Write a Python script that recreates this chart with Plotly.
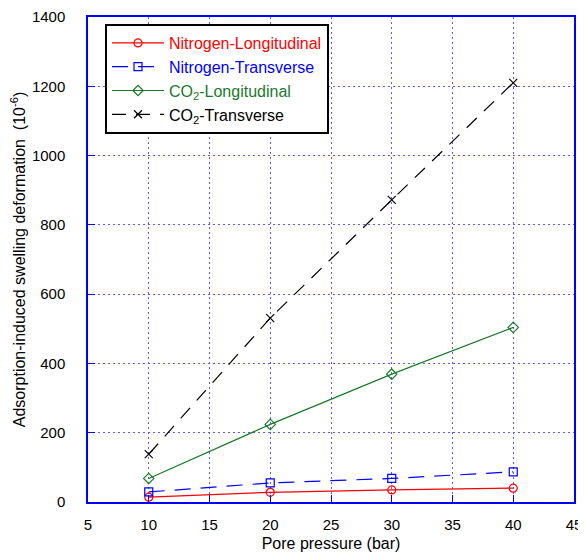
import plotly.graph_objects as go

pressure = [10, 20, 30, 40]
n2_long = [14, 28, 35, 40]
n2_trans = [29, 55, 68, 87]
co2_long = [68, 224, 369, 504]
co2_trans = [138, 531, 872, 1210]

x_ticks = [5, 10, 15, 20, 25, 30, 35, 40, 45]
y_ticks = [0, 200, 400, 600, 800, 1000, 1200, 1400]

FONT = "Liberation Sans, Arial, sans-serif"

fig = go.Figure()
series = [
    ("Nitrogen-Longitudinal", n2_long, "#ff0000", "solid", "circle-open"),
    ("Nitrogen-Transverse", n2_trans, "#0000ff", "16px,10px", "square-open"),
    ("CO<sub>2</sub>-Longitudinal", co2_long, "#1a7a2a", "solid", "diamond-open"),
    ("CO<sub>2</sub>-Transverse", co2_trans, "#000000", "14px,10px", "x-thin-open"),
]
for name, ys, col, dash, sym in series:
    fig.add_trace(go.Scatter(
        x=pressure, y=ys,
        name="<span style='color:%s'>%s</span>" % (col, name),
        mode="lines+markers",
        line=dict(color=col, width=1.2, dash=dash),
        marker=dict(symbol=sym, size=8, color=col, line=dict(color=col, width=1.2)),
    ))

axis_common = dict(
    showline=True, linecolor="#0000ff", linewidth=1.5, mirror=True,
    showgrid=True, gridcolor="#5a5aff", griddash="2px,3px", gridwidth=1.2,
    ticks="inside", tickcolor="#0000ff", ticklen=7,
    tickfont=dict(family=FONT, size=15, color="black"),
    zeroline=False, automargin=False,
)
fig.update_xaxes(range=[5, 45], tickvals=x_ticks, ticklabelstandoff=8,
                 title=dict(text="Pore pressure (bar)", font=dict(family=FONT, size=16, color="black"), standoff=6),
                 **axis_common)
fig.update_yaxes(range=[0, 1400], tickvals=y_ticks, ticklabelstandoff=18,
                 title=dict(text="Adsorption-induced swelling deformation  (10<sup>-6</sup>)", font=dict(family=FONT, size=16, color="black"), standoff=10),
                 **axis_common)

# page body adds an 8px offset; size the figure so the plot area lands as in the reference
fig.update_layout(
    width=578, height=546,
    margin=dict(l=80, r=12, t=9, b=52, autoexpand=False),
    plot_bgcolor="white", paper_bgcolor="white",
    font=dict(family=FONT, size=16, color="black"),
    legend=dict(x=0.035, y=0.9856, xanchor="left", yanchor="top",
                bgcolor="white", bordercolor="black", borderwidth=2,
                font=dict(family=FONT, size=16), tracegroupgap=0,
                itemwidth=52),
    showlegend=True,
)
fig.write_html("out.html")
